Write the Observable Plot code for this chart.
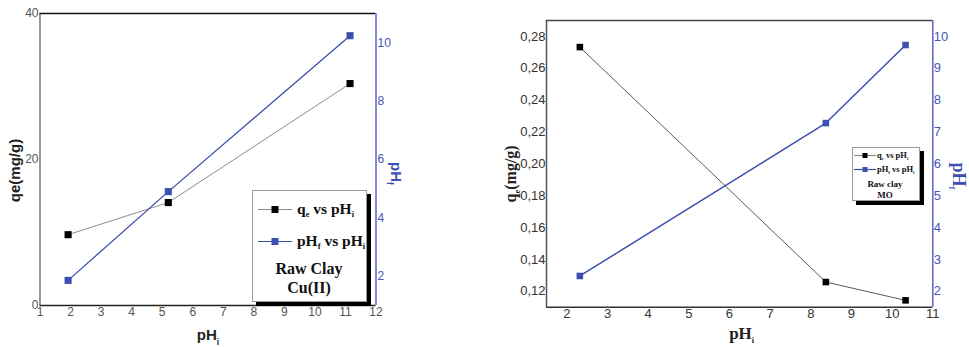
<!DOCTYPE html>
<html>
<head>
<meta charset="utf-8">
<script src="https://cdn.jsdelivr.net/npm/d3@7"></script>
<script src="https://cdn.jsdelivr.net/npm/@observablehq/plot@0.6"></script>
<style>
  html, body { margin: 0; padding: 0; background: #fff; }
  #wrap { position: relative; width: 969px; height: 347px; overflow: hidden; background: #fff; }
  #wrap svg { position: absolute; top: 0; }
  .legend { position: absolute; box-sizing: border-box; background: #fff; border: 1px solid #9a9a9a; font-family: "Liberation Serif", "Times New Roman", serif; font-weight: bold; color: #111; }
  .legend .row, .legend .cap { position: absolute; white-space: nowrap; line-height: 1; }
  .legend .cap { text-align: center; }
  .legend svg { position: absolute; overflow: visible; }
  sub { font-size: 0.55em; vertical-align: -0.35em; line-height: 0; }
</style>
</head>
<body>
<div id="wrap"></div>
<script>
// ---------------- data: Raw Clay / Cu(II) ----------------
const cuPHi = [1.92, 5.2, 11.15];
const cuQe = [9.7, 14.1, 30.4];
const cuPHf = [1.86, 4.9, 10.24];
const cuXTicks = [1, 2, 3, 4, 5, 6, 7, 8, 9, 10, 11, 12];
const cuQeTicks = [0, 20, 40];
const cuPHfTicks = [2, 4, 6, 8, 10];
const cuSeriesLabels = ["q_e vs pH_i", "pH_f vs pH_i"];
const cuCaption = ["Raw Clay", "Cu(II)"];
const cuAxisLabels = { x: "pH_i", y: "qe(mg/g)", y2: "pH_f" };

// ---------------- data: Raw clay / MO ----------------
const moPHi = [2.32, 8.37, 10.33];
const moQe = [0.2733, 0.1258, 0.1143];
const moPHf = [2.48, 7.28, 9.73];
const moXTicks = [2, 3, 4, 5, 6, 7, 8, 9, 10, 11];
const moQeTicks = [0.12, 0.14, 0.16, 0.18, 0.20, 0.22, 0.24, 0.26, 0.28];
const moPHfTicks = [2, 3, 4, 5, 6, 7, 8, 9, 10];
const moSeriesLabels = ["q_e vs pH_i", "pH_f vs pH_i"];
const moCaption = ["Raw clay", "MO"];
const moAxisLabels = { x: "pH_i", y: "q_e(mg/g)", y2: "pH_f" };

const cuData = cuPHi.map((x, i) => ({ pHi: x, qe: cuQe[i], pHf: cuPHf[i] }));
const moData = moPHi.map((x, i) => ({ pHi: x, qe: moQe[i], pHf: moPHf[i] }));

const BLUE = "#3d4fb0";
const BLUE_AXIS = "#5a64c4";
const BLUE_TXT = "#4756b6";
const TICKFONT = "'Liberation Sans Narrow','Arial Narrow','Liberation Sans',Arial,sans-serif";
const SANS = "'Liberation Sans',Arial,sans-serif";
const SERIF = "'Liberation Serif','Times New Roman',serif";

// turn "pH_i" style text into real subscripts inside SVG text elements
function subify(svg) {
  d3.select(svg).selectAll("text").each(function () {
    const t = this.textContent;
    if (!t.includes("_")) return;
    const el = d3.select(this);
    const fs = parseFloat(el.attr("font-size")) || 14;
    el.text(null);
    const parts = t.split(/(_\w)/).filter(p => p);
    let shifted = false;
    for (const p of parts) {
      if (p[0] === "_") {
        el.append("tspan").attr("font-size", fs * 0.6).attr("dy", fs * 0.3).text(p.slice(1));
        shifted = true;
      } else {
        const ts = el.append("tspan").text(p);
        if (shifted) { ts.attr("dy", -fs * 0.3); shifted = false; }
      }
    }
  });
  return svg;
}

function htmlSub(s) {
  return s.replace(/_(\w)/g, "<sub>$1</sub>");
}

function place(svg, left) {
  svg.style.left = left + "px";
  document.getElementById("wrap").appendChild(svg);
}

// ---------------- left panel ----------------
const cuDims = { width: 420, height: 347, marginLeft: 39.5, marginRight: 44.5, marginTop: 13, marginBottom: 42 };

const cuBase = Plot.plot({
  ...cuDims,
  style: { background: "transparent", fontFamily: TICKFONT, fontSize: "12px", color: "#555" },
  x: { domain: [1, 12], axis: null },
  y: { domain: [0, 40], axis: null },
  marks: [
    Plot.ruleX([1], { stroke: "#777", strokeWidth: 1.5 }),
    Plot.ruleY([40], { stroke: "#111", strokeWidth: 1.6 }),
    Plot.ruleY([0], { stroke: "#222", strokeWidth: 1.6 }),
    Plot.axisX({ ticks: cuXTicks, tickSize: 0, tickPadding: 2, color: "#555", label: null, fontSize: 12 }),
    Plot.axisY({ ticks: cuQeTicks, tickSize: 0, tickPadding: 1.5, color: "#555", label: null, fontSize: 12 }),
    Plot.line(cuData, { x: "pHi", y: "qe", stroke: "#8c8c8c", strokeWidth: 1 }),
    Plot.dot(cuData, { x: "pHi", y: "qe", symbol: "square", r: 4, fill: "#000" }),
    Plot.text([cuAxisLabels.y], { text: d => d, frameAnchor: "left", textAnchor: "middle", lineAnchor: "middle", dx: -24.5, dy: 11, rotate: -90, fontWeight: "bold", fontSize: 15, fontFamily: SANS, fill: "#222" }),
    Plot.text([cuAxisLabels.x], { text: d => d, frameAnchor: "bottom", textAnchor: "middle", lineAnchor: "middle", dx: 0, dy: 30, fontWeight: "bold", fontSize: 15, fontFamily: SANS, fill: "#222" })
  ]
});
place(subify(cuBase), 0);

const cuOver = Plot.plot({
  ...cuDims,
  style: { background: "transparent", fontFamily: TICKFONT, fontSize: "12px", color: BLUE_TXT },
  x: { domain: [1, 12], axis: null },
  y: { domain: [1, 11], axis: null },
  marks: [
    Plot.ruleX([12], { stroke: BLUE_AXIS, strokeWidth: 1.5 }),
    Plot.axisY({ anchor: "right", ticks: cuPHfTicks, tickSize: 0, tickPadding: 1.5, color: BLUE_TXT, label: null, fontSize: 12 }),
    Plot.line(cuData, { x: "pHi", y: "pHf", stroke: BLUE, strokeWidth: 1.3 }),
    Plot.dot(cuData, { x: "pHi", y: "pHf", symbol: "square", r: 4, fill: BLUE }),
    Plot.text([cuAxisLabels.y2], { text: d => d, frameAnchor: "right", textAnchor: "middle", lineAnchor: "middle", dx: 19.5, dy: 14, rotate: 90, fontWeight: "bold", fontSize: 15, fontFamily: SANS, fill: BLUE })
  ]
});
place(subify(cuOver), 0);

// ---------------- right panel ----------------
const moDims = { width: 489, height: 347, marginLeft: 66, marginRight: 36.7, marginTop: 20, marginBottom: 40.3 };
const comma = d => d.toFixed(2).replace(".", ",");

const moBase = Plot.plot({
  ...moDims,
  style: { background: "transparent", fontFamily: TICKFONT, fontSize: "13px", color: "#333" },
  x: { domain: [1.5, 11], axis: null },
  y: { domain: [0.11, 0.29], axis: null },
  marks: [
    Plot.ruleX([1.5], { stroke: "#555", strokeWidth: 1.5 }),
    Plot.ruleY([0.29], { stroke: "#444", strokeWidth: 1.5 }),
    Plot.ruleY([0.11], { stroke: "#333", strokeWidth: 1.5 }),
    Plot.axisX({ ticks: moXTicks, tickSize: 0, tickPadding: 2, color: "#333", label: null, fontSize: 13 }),
    Plot.axisY({ ticks: moQeTicks, tickSize: 0, tickPadding: 1, tickFormat: comma, color: "#333", label: null, fontSize: 13 }),
    Plot.line(moData, { x: "pHi", y: "qe", stroke: "#5a5a5a", strokeWidth: 1 }),
    Plot.dot(moData, { x: "pHi", y: "qe", symbol: "square", r: 3.7, fill: "#000" }),
    Plot.text([moAxisLabels.y], { text: d => d, frameAnchor: "left", textAnchor: "middle", lineAnchor: "middle", dx: -36, dy: 10, rotate: -90, fontWeight: "bold", fontSize: 16, fontFamily: SERIF, fill: "#222" }),
    Plot.text([moAxisLabels.x], { text: d => d, frameAnchor: "bottom", textAnchor: "middle", lineAnchor: "middle", dx: 2, dy: 26.5, fontWeight: "bold", fontSize: 17, fontFamily: SERIF, fill: "#222" })
  ]
});
place(subify(moBase), 480);

const moOver = Plot.plot({
  ...moDims,
  style: { background: "transparent", fontFamily: TICKFONT, fontSize: "13px", color: BLUE_TXT },
  x: { domain: [1.5, 11], axis: null },
  y: { domain: [1.5, 10.5], axis: null },
  marks: [
    Plot.ruleX([11], { stroke: BLUE_AXIS, strokeWidth: 1.5 }),
    Plot.axisY({ anchor: "right", ticks: moPHfTicks, tickSize: 0, tickPadding: 1, color: BLUE_TXT, label: null, fontSize: 13 }),
    Plot.line(moData, { x: "pHi", y: "pHf", stroke: BLUE, strokeWidth: 1.5 }),
    Plot.dot(moData, { x: "pHi", y: "pHf", symbol: "square", r: 3.7, fill: BLUE }),
    Plot.text([moAxisLabels.y2], { text: d => d, frameAnchor: "right", textAnchor: "middle", lineAnchor: "middle", dx: 25.7, dy: 12, rotate: 90, fontWeight: "bold", fontSize: 18, fontFamily: SERIF, fill: BLUE })
  ]
});
place(subify(moOver), 480);

// ---------------- legends (boxes with drop shadow) ----------------
function legend(cfg) {
  const box = d3.select("#wrap").append("div").attr("class", "legend")
    .style("left", cfg.left + "px").style("top", cfg.top + "px")
    .style("width", cfg.w + "px").style("height", cfg.h + "px")
    .style("box-shadow", `${cfg.shadow}px ${cfg.shadow}px 0 #000`);
  const colors = [["#8c8c8c", "#000"], [BLUE, BLUE]];
  cfg.labels.forEach((lab, i) => {
    const y = cfg.rowY[i];
    const s = box.append("svg").attr("width", cfg.symW).attr("height", cfg.sq + 2)
      .style("left", cfg.symX + "px").style("top", (y - cfg.sq / 2 - 1) + "px");
    s.append("line").attr("x1", 0).attr("x2", cfg.symW).attr("y1", cfg.sq / 2 + 1).attr("y2", cfg.sq / 2 + 1)
      .attr("stroke", colors[i][0]).attr("stroke-width", 1.2);
    s.append("rect").attr("x", cfg.symW / 2 - cfg.sq / 2).attr("y", 1).attr("width", cfg.sq).attr("height", cfg.sq)
      .attr("fill", colors[i][1]);
    box.append("div").attr("class", "row").style("left", cfg.textX + "px")
      .style("font-size", cfg.font + "px")
      .style("top", (y - cfg.font / 2) + "px").html(htmlSub(lab));
  });
  cfg.caption.forEach((c, i) => {
    box.append("div").attr("class", "cap").style("left", cfg.capX + "px").style("width", cfg.capW + "px")
      .style("font-size", cfg.capFont + "px")
      .style("top", (cfg.capY[i] - cfg.capFont / 2) + "px").text(c);
  });
}

legend({
  left: 252, top: 190, w: 115, h: 112, shadow: 4, font: 15.5, capFont: 16,
  labels: cuSeriesLabels, rowY: [18, 50], symX: 5, symW: 34, sq: 7, textX: 44,
  caption: cuCaption, capY: [78, 97], capX: 0, capW: 112
});

legend({
  left: 852, top: 147, w: 68, h: 54, shadow: 4, font: 8.5, capFont: 9,
  labels: moSeriesLabels, rowY: [7, 21], symX: 1, symW: 22, sq: 5, textX: 24,
  caption: moCaption, capY: [36, 47], capX: 8, capW: 48
});
</script>
</body>
</html>
